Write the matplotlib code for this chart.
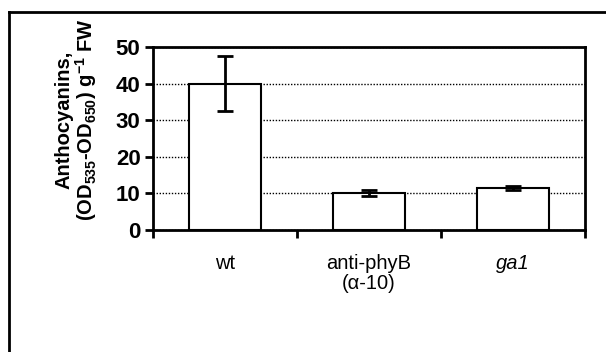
import matplotlib
matplotlib.use("Agg")
import matplotlib.pyplot as plt
from matplotlib.lines import Line2D

plt.rcParams['font.family'] = ['Liberation Sans', 'DejaVu Sans']
plt.rcParams['mathtext.default'] = 'regular'

# data
categories = ["wt", "anti-phyB\n(\u03b1-10)", "ga1"]
values = [40, 10, 11.5]
errors = [7.5, 0.8, 0.6]
y_ticks = [0, 10, 20, 30, 40, 50]

fig = plt.figure(figsize=(6.06, 3.52), dpi=100)
ax = fig.add_axes([0.2525, 0.3466, 0.713, 0.52])

xs = range(len(categories))
ax.bar(xs, values, width=0.5, color="white", edgecolor="black", linewidth=1.5, zorder=3)
ax.errorbar(xs, values, yerr=errors, fmt="none", ecolor="black",
            elinewidth=2, capsize=5.5, capthick=2, zorder=4)

ax.set_xlim(-0.5, 2.5)
ax.set_ylim(0, 50)
ax.set_yticks(y_ticks)
ax.set_yticklabels([str(t) for t in y_ticks], fontsize=16, fontweight="bold")
ax.yaxis.grid(True, linestyle=(0, (1, 1.2)), color="black", linewidth=1.0)
ax.set_axisbelow(True)

# category labels between boundary ticks
ax.set_xticks([-0.5, 0.5, 1.5, 2.5])
ax.set_xticklabels([])
ax.set_xticks(list(xs), minor=True)
ax.set_xticklabels(categories, minor=True, fontsize=14.5)
ax.tick_params(axis="x", which="minor", length=0, pad=17)
ax.tick_params(axis="x", which="major", length=6, width=2, direction="out")
ax.tick_params(axis="y", length=6, width=2, direction="out", pad=3)
for lab in ax.get_xticklabels(minor=True):
    if lab.get_text() == "ga1":
        lab.set_style("italic")
    lab.set_linespacing(1.1)

for side in ax.spines.values():
    side.set_linewidth(2)

ax.set_ylabel("Anthocyanins,\n(OD$_{535}$-OD$_{650}$) g$^{-1}$ FW",
              fontsize=14.5, fontweight="bold", linespacing=1.0)
ax.yaxis.set_label_coords(-0.125, 0.6)

# outer frame (top and left edges visible)
fig.add_artist(Line2D([9 / 606, 9 / 606], [0, 1 - 12 / 352], color="black",
                      linewidth=2, transform=fig.transFigure))
fig.add_artist(Line2D([9 / 606, 1], [1 - 12 / 352, 1 - 12 / 352], color="black",
                      linewidth=2, transform=fig.transFigure))

fig.savefig("out.png", dpi=100)
